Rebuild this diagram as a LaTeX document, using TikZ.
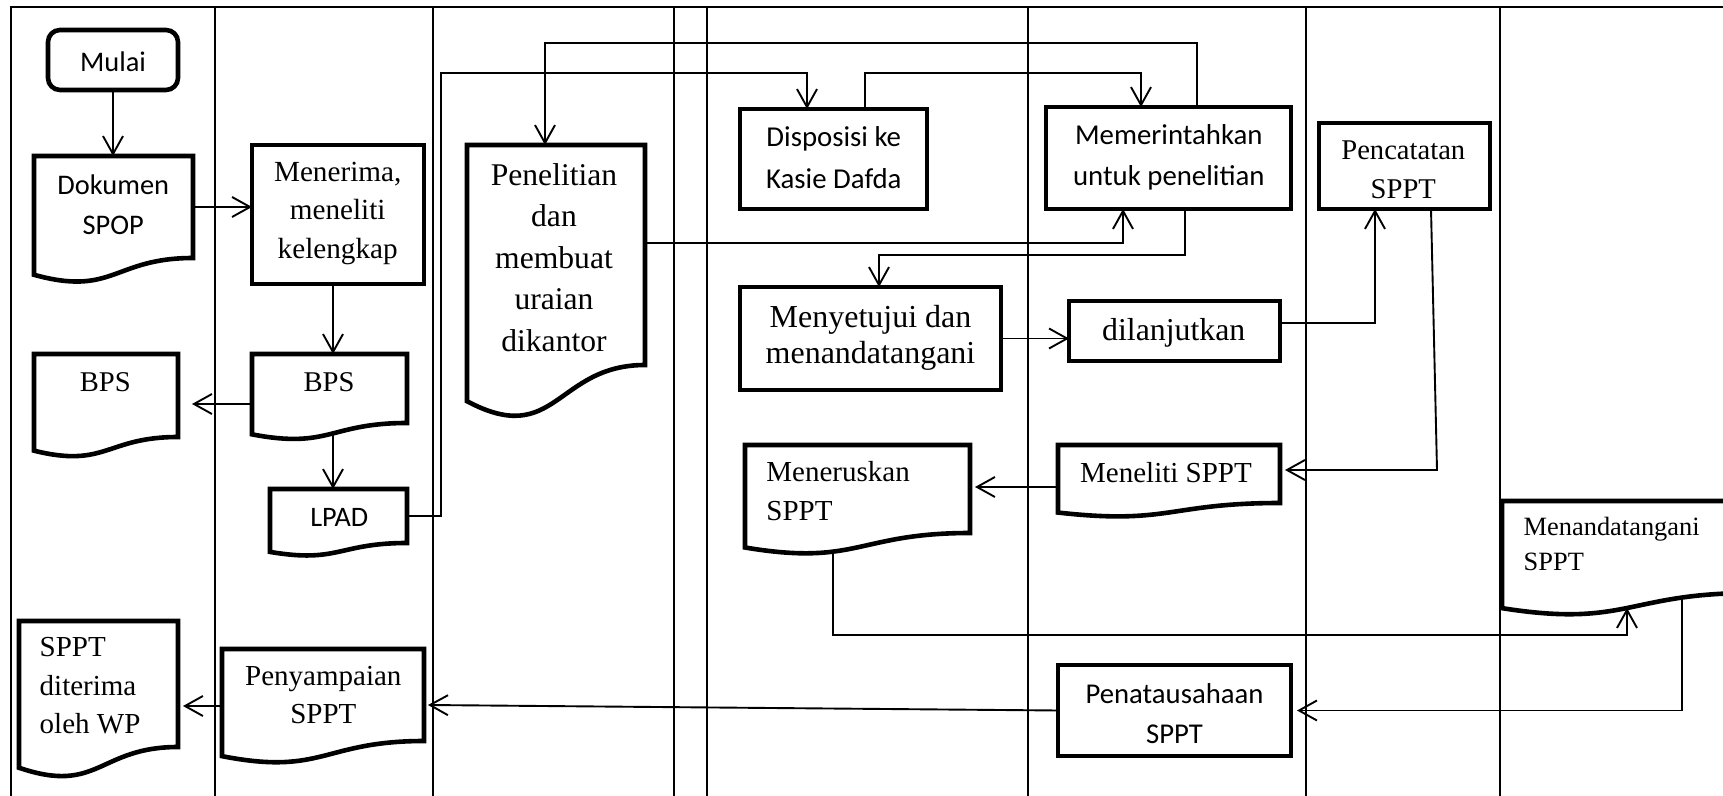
\documentclass[tikz,border=0pt]{standalone}
\usepackage{fontspec}
\setmainfont{Liberation Serif}
\newfontfamily\calfont{Carlito}
\usetikzlibrary{calc,arrows.meta}
\begin{document}
\begin{tikzpicture}[x=0.5pt,y=-0.5pt,
  frame/.style={line width=1.2pt},
  lane/.style={line width=1pt},
  arr/.style={line width=0.95pt,-{Straight Barb[length=9pt,width=10pt]}},
  boxn/.style={draw,fill=white,line width=2.3pt,inner sep=0,outer sep=0},
  docn/.style={inner sep=0,outer sep=0},
  docline/.style={line width=2.3pt,line join=miter,fill=white},
  tx/.style={inner sep=0,align=center},
  txl/.style={inner sep=0,align=left,anchor=west},
  sf/.style 2 args={font=\calfont\fontsize{#1}{#2}\selectfont},
  rm/.style 2 args={font=\fontsize{#1}{#2}\selectfont},
]
\useasboundingbox (0,0) rectangle (1723,796);
\clip (0,0) rectangle (1723,796);
% swimlanes
\draw[frame] (11,796) -- (11,7) -- (1723,7);
\foreach \x in {215,433,674,707,1028,1306,1500} \draw[lane] (\x,7) -- (\x,796);
% shape nodes
\node[boxn,rounded corners=6pt,minimum width=65pt,minimum height=30pt] (mulai) at (113,60) {};
\node[docn,minimum width=79.5pt,minimum height=51pt] (dok) at (113.5,207) {};
\node[boxn,minimum width=86pt,minimum height=69.5pt] (menerima) at (338,214.5) {};
\node[docn,minimum width=77.5pt,minimum height=34.5pt] (bpsr) at (329.5,388.5) {};
\node[docn,minimum width=72pt,minimum height=41.5pt] (bpsl) at (106,395.5) {};
\node[docn,minimum width=68.5pt,minimum height=27pt] (lpad) at (338.5,516) {};
\node[docn,minimum width=89pt,minimum height=110pt] (penel) at (556,255) {};
\node[boxn,minimum width=93.5pt,minimum height=50pt] (dispo) at (833.5,159) {};
\node[boxn,minimum width=122.5pt,minimum height=51pt] (memer) at (1168.5,158) {};
\node[boxn,minimum width=85.5pt,minimum height=43pt] (pencat) at (1404.5,166) {};
\node[boxn,minimum width=130.5pt,minimum height=51.5pt] (menyet) at (870.5,338.5) {};
\node[boxn,minimum width=105.5pt,minimum height=30pt] (dilanj) at (1174.5,331) {};
\node[docn,minimum width=111pt,minimum height=29pt] (menel) at (1169,474) {};
\node[docn,minimum width=112.5pt,minimum height=44pt] (meneru) at (857.5,489) {};
\node[docn,minimum width=125pt,minimum height=46pt] (menand) at (1627,547) {};
\node[boxn,minimum width=116.5pt,minimum height=45.5pt] (penata) at (1174.5,710.5) {};
\node[docn,minimum width=101pt,minimum height=46pt] (penya) at (323,695) {};
\node[docn,minimum width=79.5pt,minimum height=63pt] (sppt) at (98.5,684) {};
% document outlines
\foreach \n in {dok,bpsr,bpsl,lpad,penel,menel,meneru,menand,penya,sppt}
  \draw[docline] (\n.south east) -- (\n.north east) -- (\n.north west)
    -- ($(\n.north west)!1.1646!(\n.south west)$)
    .. controls ($(\n.north)!1.3803!(\n.south)$) and (\n.south) .. (\n.south east) -- cycle;
% texts
\node[tx,sf={14.2}{17}] (t-mulai) at (113,64.9) {\strut Mulai};
\node[tx,sf={14.2}{20}] (t-dok) at (113.3,207) {\strut Dokumen\\SPOP\strut};
\node[tx,rm={14.6}{19.2}] (t-menerima) at (337.7,212.3) {\strut Menerima,\\meneliti\\kelengkap\strut};
\node[tx,rm={14.3}{17}] (t-bpsr) at (329,385) {\strut BPS};
\node[tx,rm={14.3}{17}] (t-bpsl) at (105.3,385) {\strut BPS};
\node[tx,sf={14.1}{17}] (t-lpad) at (339.3,520) {\strut LPAD};
\node[tx,rm={15.8}{20.8}] (t-penel) at (554,260) {\strut Penelitian\\dan\\membuat\\uraian\\dikantor\strut};
\node[tx,sf={14.4}{20.8}] (t-dispo) at (833.8,159.2) {\strut Disposisi ke\\Kasie Dafda\strut};
\node[tx,sf={14.4}{20.4}] (t-memer) at (1168.8,157.2) {\strut Memerintahkan\\untuk penelitian\strut};
\node[tx,rm={14.3}{19.2}] (t-pencat) at (1403.3,171.5) {\strut Pencatatan\\SPPT\strut};
\node[tx,rm={16}{18.3}] (t-menyet) at (870.5,338) {\strut Menyetujui dan\\menandatangani\strut};
\node[tx,rm={15.9}{19}] (t-dilanj) at (1173.7,333) {\strut dilanjutkan};
\node[tx,rm={14.5}{17}] (t-menel) at (1166,476) {\strut Meneliti SPPT};
\node[txl,rm={14.5}{19.2}] (t-meneru) at (766,493.2) {\strut Meneruskan\\SPPT\strut};
\node[txl,rm={13.2}{17.5}] (t-menand) at (1523.3,545.5) {\strut Menandatangani\\SPPT\strut};
\node[tx,sf={14.35}{20}] (t-penata) at (1174.5,715.3) {\strut Penatausahaan\\SPPT\strut};
\node[tx,rm={14.5}{18.7}] (t-penya) at (323.3,697.2) {\strut Penyampaian\\SPPT\strut};
\node[txl,rm={14.5}{19.3}] (t-sppt) at (39.3,687.6) {\strut SPPT\\diterima\\oleh WP\strut};
% connectors
\draw[arr] (mulai.south) -- (mulai.south |- dok.north);
\draw[arr] (dok.east) -- (dok.east -| menerima.west);
\draw[arr] ($(menerima.south)+(-5,0)$) -- ($(menerima.south |- bpsr.north)+(-5,0)$);
\draw[arr] ($(bpsr.west)+(0,15.5)$) -- ($(bpsl.east)+(14,8.5)$);
\draw[arr] ($(bpsr.south)+(3.5,12)$) -- ($(bpsr.south |- lpad.north)+(3.5,0)$);
\draw[arr] (lpad.east) -- ++(34,0) |- ($(dispo.north)+(-26.5,-36)$) -- ($(dispo.north)+(-26.5,0)$);
\draw[arr] ($(dispo.north)+(31.5,0)$) -- ++(0,-36) -| ($(memer.north)+(-27.5,0)$);
\draw[arr] ($(memer.north)+(28.5,0)$) -- ++(0,-64) -| ($(penel.north)+(-11,0)$);
\draw[arr] ($(penel.east)+(0,-12)$) -| ($(memer.south)+(-45.5,0)$);
\draw[arr] ($(memer.south)+(16.5,0)$) -- ++(0,46) -| ($(menyet.north)+(8.5,0)$);
\draw[arr] (menyet.east) -- (menyet.east -| dilanj.west);
\draw[arr] ($(dilanj.east)+(0,-8)$) -| ($(pencat.south)+(-29.5,0)$);
\draw[arr] ($(pencat.south)+(26.5,0)$) -- ($(menel.east)+(157,-4)$) -- ($(menel.east)+(5,-4)$);
\draw[arr] ($(menel.west)+(0,13)$) -- ($(meneru.east |- menel.west)+(5,13)$);
\draw[arr] ($(meneru.south)+(-24.5,20)$) -- ++(0,82) -| ($(menand.south)+(0,15)$);
\draw[arr] ($(menand.south)+(55,4)$) |- ($(penata.east)+(6,0)$);
\draw[arr] (penata.west) -- ($(penya.east)+(4,10)$);
\draw[arr] ($(penya.west)+(0,11)$) -- ($(sppt.east)+(5,22)$);
\end{tikzpicture}
\end{document}
